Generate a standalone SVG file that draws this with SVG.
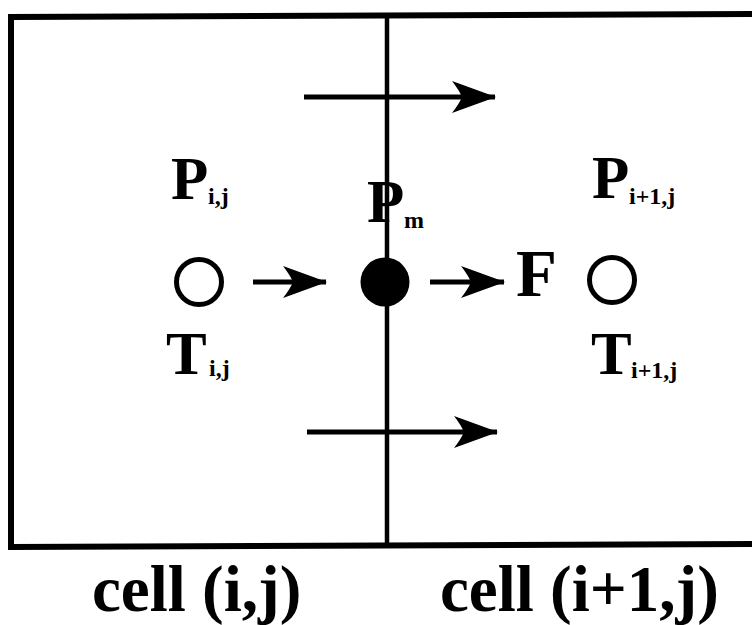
<svg xmlns="http://www.w3.org/2000/svg" width="752" height="625" viewBox="0 0 752 625">
<style>
.big{font-family:"Liberation Serif","Times New Roman",serif;font-weight:bold;font-size:61px;fill:#000}
.sub{font-family:"Liberation Serif","Times New Roman",serif;font-weight:bold;font-size:24px;fill:#000}
.lbl{font-family:"Liberation Serif","Times New Roman",serif;font-weight:bold;font-size:65px;fill:#000}
.frame{fill:none;stroke:#000;stroke-linejoin:miter}
.shaft{stroke:#000;stroke-width:5;fill:none}
</style>
<defs>
<marker id="ah" viewBox="0 0 44 36" refX="43" refY="18" markerWidth="44" markerHeight="36" markerUnits="userSpaceOnUse" orient="auto">
<path d="M44,18 L0,2 Q7,11 10,18 Q7,25 0,34 Z" fill="#000"/>
</marker>
</defs>
<g id="cells">
<path class="frame" stroke-width="6" d="M760,14 L11,17 L11,547 L760,544"/>
<line x1="387" y1="15" x2="387" y2="546" stroke="#000" stroke-width="4.5"/>
</g>
<g id="connectors">
<line class="shaft" x1="304" y1="97" x2="495" y2="97" marker-end="url(#ah)"/>
<line class="shaft" x1="307" y1="432" x2="497" y2="432" marker-end="url(#ah)"/>
<line class="shaft" x1="253" y1="282" x2="326" y2="282" marker-end="url(#ah)"/>
<line class="shaft" x1="430" y1="282" x2="504" y2="282" marker-end="url(#ah)"/>
</g>
<g id="node-ij">
<circle cx="199" cy="282" r="22.5" fill="#fff" stroke="#000" stroke-width="5"/>
<text class="big" x="171" y="199">P</text>
<text class="sub" x="208" y="204">i,j</text>
<text class="big" x="166" y="374">T</text>
<text class="sub" x="209" y="376">i,j</text>
</g>
<g id="node-m">
<circle cx="385" cy="282" r="24.5" fill="#000"/>
<text class="big" x="367" y="222">P</text>
<text class="sub" x="404" y="228">m</text>
</g>
<g id="node-F">
<text class="big" x="516" y="296" style="font-size:67px">F</text>
</g>
<g id="node-i1j">
<circle cx="612" cy="280" r="22.5" fill="#fff" stroke="#000" stroke-width="5"/>
<text class="big" x="592" y="198">P</text>
<text class="sub" x="629" y="204">i+1,j</text>
<text class="big" x="591" y="374">T</text>
<text class="sub" x="631" y="378">i+1,j</text>
</g>
<g id="labels">
<text class="lbl" x="92" y="611">cell (i,j)</text>
<text class="lbl" x="440" y="611">cell (i+1,j)</text>
</g>
</svg>
